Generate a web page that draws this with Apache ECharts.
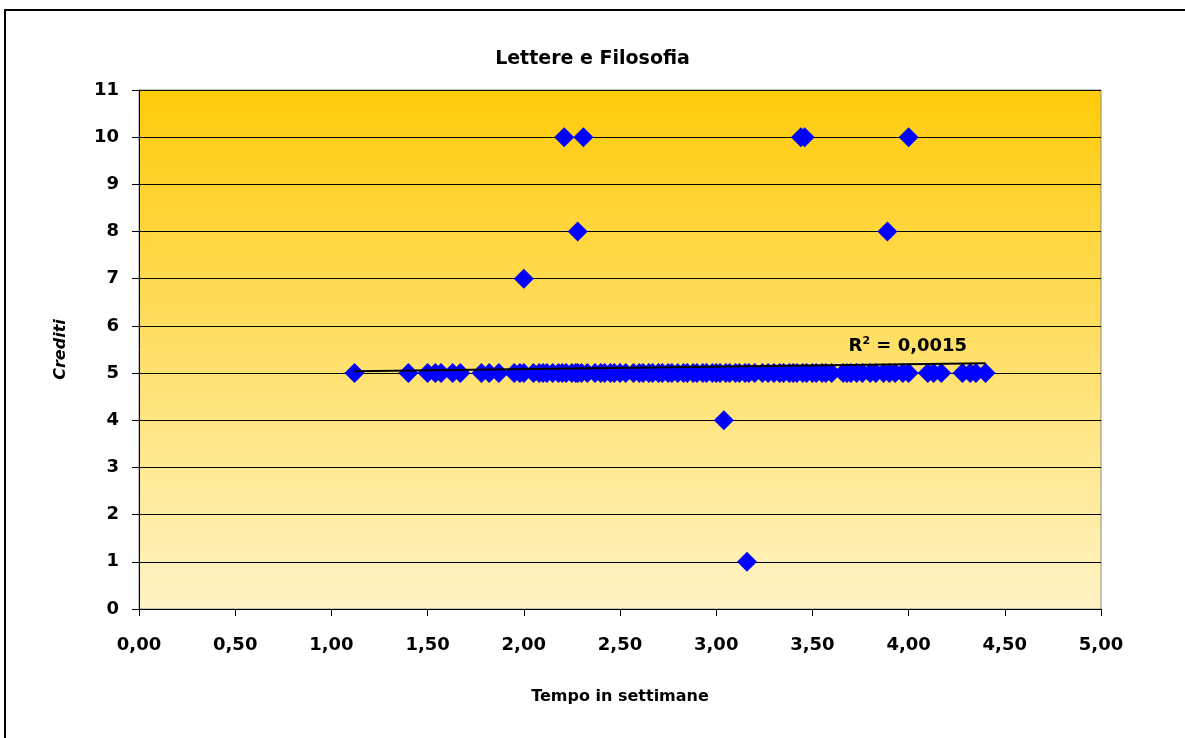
<!DOCTYPE html>
<html>
<head>
<meta charset="utf-8">
<script src="https://cdn.jsdelivr.net/npm/echarts@6/dist/echarts.min.js"></script>
<style>
html,body{margin:0;padding:0;background:#fff;}
#c{width:1185px;height:738px;}
</style>
</head>
<body>
<div id="c"></div>
<script>
// ---- Data ----
const chartTitle = "Lettere e Filosofia";
const xAxisName = "Tempo in settimane";
const yAxisName = "Crediti";

// points at Crediti = 5
const x5 = [1.12, 1.40, 1.50, 1.54, 1.57, 1.63, 1.67, 1.78, 1.82, 1.87, 1.95, 1.98, 2.00,
  2.05, 2.08, 2.10, 2.12, 2.15, 2.18, 2.20, 2.22, 2.25, 2.27, 2.28, 2.30, 2.33, 2.37, 2.40,
  2.42, 2.45, 2.47, 2.50, 2.53, 2.57, 2.60, 2.62, 2.65, 2.67, 2.70, 2.72, 2.75, 2.77, 2.80,
  2.83, 2.85, 2.88, 2.90, 2.93, 2.95, 2.98, 3.00, 3.02, 3.05, 3.07, 3.10, 3.12, 3.15, 3.17,
  3.20, 3.24, 3.27, 3.30, 3.33, 3.35, 3.38, 3.40, 3.42, 3.45, 3.47, 3.50, 3.52, 3.55, 3.57, 3.60,
  3.66, 3.68, 3.70, 3.73, 3.76, 3.80, 3.83, 3.87, 3.90, 3.93, 3.97, 4.00, 4.10, 4.13, 4.17,
  4.28, 4.32, 4.35, 4.40];
// other points
const xOther = [2.21, 2.31, 3.44, 3.46, 4.00, 2.28, 3.89, 2.00, 3.04, 3.16];
const yOther = [10, 10, 10, 10, 10, 8, 8, 7, 4, 1];

// linear trend line (as drawn)
const trendX = [1.12, 4.40];
const trendY = [5.04, 5.21];
const r2Text = "0,0015";

const xTicks = {min: 0, max: 5, interval: 0.5};
const yTicks = {min: 0, max: 11, interval: 1};

// ---- Build ----
const scatterData = x5.map(x => [x, 5]).concat(xOther.map((x, i) => [x, yOther[i]]));
const trendData = trendX.map((x, i) => [x, trendY[i]]);

const font = "'DejaVu Sans', sans-serif";
const chart = echarts.init(document.getElementById('c'));
chart.setOption({
  animation: false,
  backgroundColor: '#ffffff',
  title: {
    text: chartTitle,
    left: 'center',
    top: 45,
    textStyle: {fontFamily: font, fontWeight: 'bold', fontSize: 19, color: '#000'}
  },
  graphic: [{
    type: 'rect',
    shape: {x: 5, y: 10, width: 1200, height: 760},
    style: {fill: 'none', stroke: '#000', lineWidth: 2},
    silent: true, z: 100
  }],
  grid: {
    left: 139, top: 90, right: 84, bottom: 129,
    show: true,
    borderColor: '#8a8a8a', borderWidth: 1,
    backgroundColor: {
      type: 'linear', x: 0, y: 0, x2: 0, y2: 1,
      colorStops: [{offset: 0, color: '#ffcb0a'}, {offset: 1, color: '#fff4c6'}]
    }
  },
  xAxis: {
    type: 'value',
    min: xTicks.min, max: xTicks.max, interval: xTicks.interval,
    name: xAxisName, nameLocation: 'middle', nameGap: 80,
    nameTextStyle: {fontFamily: font, fontWeight: 'bold', fontSize: 16, color: '#000'},
    axisLine: {show: true, onZero: false, lineStyle: {color: '#000', width: 1}},
    axisTick: {show: true, length: 7, lineStyle: {color: '#000'}},
    axisLabel: {margin: 27, fontFamily: font, fontWeight: 'bold', fontSize: 18, color: '#000',
      formatter: v => v.toFixed(2).replace('.', ',')},
    splitLine: {show: false}
  },
  yAxis: {
    type: 'value',
    min: yTicks.min, max: yTicks.max, interval: yTicks.interval,
    name: yAxisName, nameLocation: 'middle', nameGap: 70,
    nameTextStyle: {fontFamily: font, fontWeight: 'bold', fontStyle: 'italic', fontSize: 16, color: '#000'},
    axisLine: {show: true, onZero: false, lineStyle: {color: '#000', width: 1}},
    axisTick: {show: true, length: 7, lineStyle: {color: '#000'}},
    axisLabel: {margin: 20, fontFamily: font, fontWeight: 'bold', fontSize: 18, color: '#000'},
    splitLine: {show: true, lineStyle: {color: '#000', width: 1}}
  },
  series: [
    {
      type: 'scatter',
      data: scatterData,
      symbol: 'diamond',
      symbolSize: 20,
      itemStyle: {color: '#0000ff', opacity: 1},
      z: 2
    },
    {
      type: 'line',
      data: trendData,
      showSymbol: false,
      symbol: 'none',
      lineStyle: {color: '#000', width: 2},
      z: 3,
      endLabel: {
        show: true,
        formatter: '{a|R}{s|2}{a| = ' + r2Text + '}',
        offset: [-145, -17],
        rich: {
          a: {fontFamily: font, fontWeight: 'bold', fontSize: 18, color: '#000'},
          s: {fontFamily: font, fontWeight: 'bold', fontSize: 11, color: '#000', verticalAlign: 'top', padding: [0, 0, 10, 0]}
        }
      }
    }
  ]
});
</script>
</body>
</html>
